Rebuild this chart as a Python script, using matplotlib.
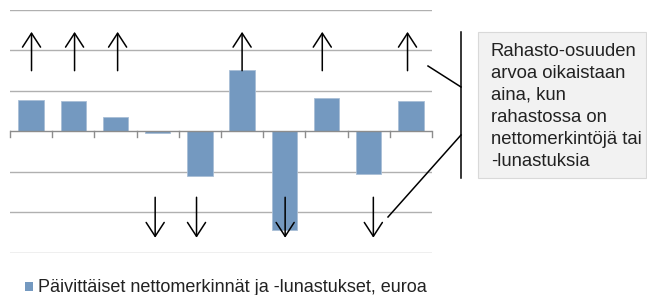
import matplotlib.pyplot as plt
from matplotlib.lines import Line2D
from matplotlib.patches import Rectangle

plt.rcParams['font.family'] = ['Liberation Sans', 'DejaVu Sans']

BAR_COLOR = '#7499c0'
GRID_COLOR = '#b0b0b0'

# daily net subscriptions / redemptions (relative units, one gridline = 1)
days = list(range(10))
flows = [0.78, 0.76, 0.36, -0.05, -1.11, 1.52, -2.44, 0.82, -1.05, 0.76]

# hand-placed arrows: x position (category units), start y, end y
up_x = [0.01, 1.03, 2.05, 5.0, 6.9, 8.92]
up_y = (1.5, 2.46)
down_x = [2.94, 3.92, 6.02, 8.11]
down_y = (-1.63, -2.63)

legend_label = 'Päivittäiset nettomerkinnät ja -lunastukset, euroa'
note_text = ('Rahasto-osuuden\narvoa oikaistaan\naina, kun\n'
             'rahastossa on\nnettomerkintöjä tai\n-lunastuksia')

W, H = 647, 295


def main():
  fig = plt.figure(figsize=(W / 100, H / 100), dpi=100)
  ax = fig.add_axes([10 / W, 42.3 / H, 422 / W, 242.7 / H])
  ax.bar(days, flows, width=0.6, color=BAR_COLOR, edgecolor='#a9bfd6',
         linewidth=0.6, zorder=2)
  ax.set_xlim(-0.5, 9.5)
  ax.set_ylim(-3, 3)
  for y in [-3, -2, -1, 1, 2, 3]:
    ax.axhline(y, color=GRID_COLOR, lw=1, zorder=1)
  ax.axhline(0, color='#8c8c8c', lw=1, zorder=3)
  for x in range(11):
    ax.plot([x - 0.5, x - 0.5], [0, -0.13], color='#8c8c8c', lw=1,
            zorder=3, clip_on=False)
  for s in ax.spines.values():
    s.set_visible(False)
  ax.set_xticks([])
  ax.set_yticks([])

  arrow = dict(arrowstyle='->,head_length=1.0,head_width=0.65',
               color='black', lw=1.1, shrinkA=0, shrinkB=0)
  for x in up_x:
    ax.annotate('', xy=(x, up_y[1]), xytext=(x, up_y[0]), arrowprops=arrow,
                zorder=4)
  for x in down_x:
    ax.annotate('', xy=(x, down_y[1]), xytext=(x, down_y[0]),
                arrowprops=arrow, zorder=4)

  # overlay in pixel coordinates for the bracket and note box
  ov = fig.add_axes([0, 0, 1, 1], facecolor='none')
  ov.set_xlim(0, W)
  ov.set_ylim(H, 0)
  ov.axis('off')
  ov.add_line(Line2D([461, 461], [32, 178], color='black', lw=1.1))
  ov.add_line(Line2D([428, 461], [66, 87], color='black', lw=1.1))
  ov.add_line(Line2D([388, 461], [217, 135], color='black', lw=1.1))
  ov.add_patch(Rectangle((478, 32), 168, 146, facecolor='#f2f2f2',
                         edgecolor='#d9d9d9', lw=0.8))
  ov.text(491, 43, note_text, fontsize=13.3, va='top', ha='left',
          linespacing=1.38, color='#222222')

  ov.add_patch(Rectangle((25, 282), 8, 9, facecolor=BAR_COLOR,
                         edgecolor='none'))
  ov.text(38, 287, legend_label, fontsize=13, va='center', ha='left',
          color='#222222')

  fig.savefig('out.png', dpi=100)


if __name__ == '__main__':
  main()
